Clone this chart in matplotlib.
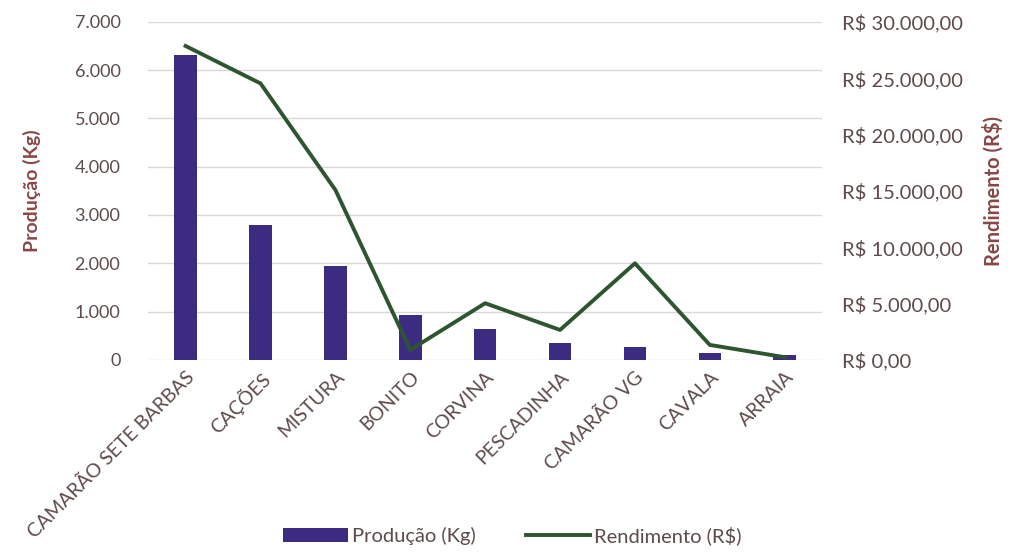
import matplotlib
matplotlib.use("Agg")
import matplotlib.pyplot as plt
from matplotlib.ticker import FuncFormatter

especies = ['CAMARÃO SETE BARBAS', 'CAÇÕES', 'MISTURA', 'BONITO', 'CORVINA',
            'PESCADINHA', 'CAMARÃO VG', 'CAVALA', 'ARRAIA']
producao_kg = [6310, 2795, 1935, 930, 645, 352, 270, 152, 103]
rendimento_rs = [27850, 24530, 15080, 890, 5030, 2660, 8570, 1330, 240]

plt.rcParams['font.family'] = ['Lato', 'DejaVu Sans']

cor_barra = '#3b2c82'
cor_linha = '#2f5530'
cor_texto = '#5e4a4a'
cor_titulo = '#8a4646'

fig = plt.figure(figsize=(10.15, 5.58), dpi=100)
ax = fig.add_axes([0.146, 0.355, 0.664, 0.606])
ax2 = ax.twinx()

x = list(range(len(especies)))
barras = ax.bar(x, producao_kg, width=0.3, color=cor_barra, zorder=3,
                label='Produção (Kg)')
linha, = ax2.plot(x, rendimento_rs, color=cor_linha, linewidth=2.8,
                  zorder=4, label='Rendimento (R$)')

ax.set_ylim(0, 7000)
ax.set_yticks(range(0, 7001, 1000))
ax2.set_ylim(0, 30000)
ax2.set_yticks(range(0, 30001, 5000))
ax.set_xlim(-0.5, len(especies) - 0.5)

def milhar(v, pos):
    return f'{int(v):,}'.replace(',', '.')

def reais(v, pos):
    return 'R$ ' + f'{v:,.2f}'.replace(',', 'X').replace('.', ',').replace('X', '.')

ax.yaxis.set_major_formatter(FuncFormatter(milhar))
ax2.yaxis.set_major_formatter(FuncFormatter(reais))

ax.grid(axis='y', color='#d8d8d8', linewidth=1, zorder=0)
for a in (ax, ax2):
    for s in a.spines.values():
        s.set_visible(False)
    a.tick_params(length=0, colors=cor_texto)

ax.tick_params(axis='y', pad=20, labelsize=13)
ax2.tick_params(axis='y', pad=14, labelsize=14.5)
ax.set_xticks(x)
ax.set_xticklabels(especies, rotation=45, ha='right', rotation_mode='anchor',
                   fontsize=14, color=cor_texto)
ax.tick_params(axis='x', pad=6)

ax.set_ylabel('Produção (Kg)', fontsize=14, fontweight='bold',
              color=cor_titulo, labelpad=24)
ax2.set_ylabel('Rendimento (R$)', fontsize=14.5, fontweight='bold',
               color=cor_titulo, labelpad=14)

fig.legend([barras, linha], ['Produção (Kg)', 'Rendimento (R$)'],
           loc='center', bbox_to_anchor=(0.505, 0.04), ncol=2, frameon=False,
           fontsize=14.5, labelcolor=cor_texto, handlelength=3.2,
           handletextpad=0.2, columnspacing=2.5)

fig.savefig('out.png', dpi=100)
